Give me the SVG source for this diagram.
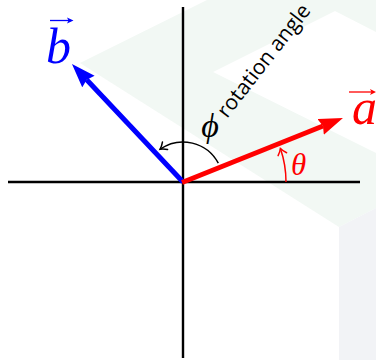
<svg xmlns="http://www.w3.org/2000/svg" width="376" height="360" viewBox="0 0 376 360">
  <style>
    .axis { stroke: #000; stroke-width: 2.4; fill: none; }
    .vec { fill: none; stroke-width: 5; stroke-linecap: butt; }
    .arc { fill: none; stroke-width: 1.5; }
    .math { font-family: "Liberation Serif", "DejaVu Serif", serif; font-style: italic; }
    .sans { font-family: "Open Sans", "Noto Sans", sans-serif; }
  </style>
  <defs>
    <marker id="headR" markerUnits="userSpaceOnUse" markerWidth="26" markerHeight="18" refX="2.5" refY="8.5" orient="auto">
      <path d="M0,0 L24,8.5 L0,17 L2.5,8.5 z" fill="#ff0000"/>
    </marker>
    <marker id="headB" markerUnits="userSpaceOnUse" markerWidth="26" markerHeight="18" refX="2.5" refY="8.5" orient="auto">
      <path d="M0,0 L24,8.5 L0,17 L2.5,8.5 z" fill="#0000ff"/>
    </marker>
    <marker id="chevK" markerUnits="userSpaceOnUse" markerWidth="12" markerHeight="12" refX="7" refY="6" orient="auto" overflow="visible">
      <path d="M1,1.5 Q4,4.5 7,6 Q4,7.5 1,10.5" fill="none" stroke="#000" stroke-width="1.5" stroke-linecap="round"/>
    </marker>
    <marker id="chevR" markerUnits="userSpaceOnUse" markerWidth="12" markerHeight="12" refX="7" refY="6" orient="auto" overflow="visible">
      <path d="M1,1.5 Q4,4.5 7,6 Q4,7.5 1,10.5" fill="none" stroke="#ff0000" stroke-width="1.5" stroke-linecap="round"/>
    </marker>
  </defs>

  <g id="background">
    <rect width="376" height="360" fill="#ffffff"/>
    <polygon points="80,63 207,0 376,0 376,208 339,227" fill="#f2f8f4"/>
    <polygon points="213,72 335,11 376,32 376,153" fill="#ffffff"/>
    <polygon points="339,227 376,208 376,360 339,360" fill="#f2f3f6"/>
  </g>

  <g id="axes">
    <line class="axis" x1="8" y1="182" x2="360" y2="182"/>
    <line class="axis" x1="183" y1="7" x2="183" y2="358"/>
  </g>

  <g id="connectors">
    <path class="arc" stroke="#000" d="M218.3,163.2 A40,40 0 0 0 160.1,149.2" marker-end="url(#chevK)"/>
    <path class="arc" stroke="#ff0000" d="M286,182 A103,103 0 0 0 280.4,148.5" marker-end="url(#chevR)"/>
    <line class="vec" stroke="#0000ff" x1="183" y1="182" x2="86.7" y2="79.7" marker-end="url(#headB)"/>
    <line class="vec" stroke="#ff0000" x1="182" y1="182.5" x2="323" y2="126" marker-end="url(#headR)"/>
  </g>

  <g id="label-a" fill="#ff0000">
    <text class="math" x="352" y="124" font-size="50">a</text>
    <line x1="349" y1="92" x2="372" y2="92" stroke="#ff0000" stroke-width="1.3"/>
    <path d="M370,89 L376,92 L370,95 L371.5,92 z" fill="#ff0000"/>
  </g>

  <g id="label-b" fill="#0000ff">
    <text class="math" x="46" y="63" font-size="50">b</text>
    <line x1="50" y1="20.5" x2="71" y2="20.5" stroke="#0000ff" stroke-width="1.3"/>
    <path d="M67,17.5 L73.5,20.5 L67,23.5 L68.5,20.5 z" fill="#0000ff"/>
  </g>

  <g id="label-theta">
    <text class="math" x="291" y="175" font-size="31" fill="#ff0000">θ</text>
  </g>

  <g id="label-phi">
    <text class="math" x="210" y="137" font-size="34" text-anchor="middle" fill="#000">ϕ</text>
    <text class="sans" transform="translate(227,119) rotate(-52)" font-size="21" fill="#000">rotation angle</text>
  </g>
</svg>
